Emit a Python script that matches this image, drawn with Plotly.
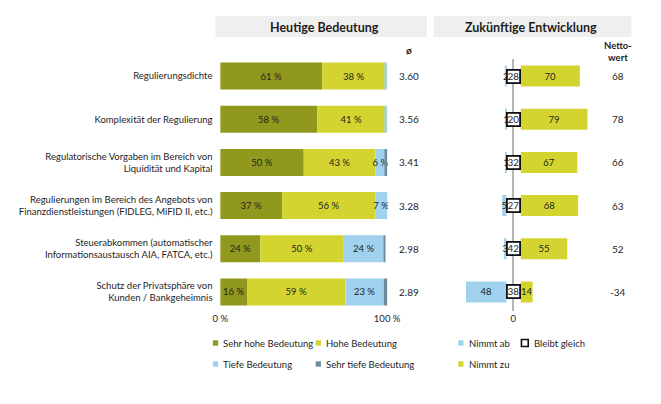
import numpy as np
import plotly.graph_objects as go

# ---------------- data ----------------
categories = [
    "Regulierungsdichte",
    "Komplexität der Regulierung",
    "Regulatorische Vorgaben im Bereich von<br>Liquidität und Kapital",
    "Regulierungen im Bereich des Angebots von<br>Finanzdienstleistungen (FIDLEG, MiFID II, etc.)",
    "Steuerabkommen (automatischer<br>Informationsaustausch AIA, FATCA, etc.)",
    "Schutz der Privatsphäre von<br>Kunden / Bankgeheimnis",
]
sehr_hohe = [61, 58, 50, 37, 24, 16]
hohe = [38, 41, 43, 56, 50, 59]
tiefe = [1, 1, 6, 7, 24, 23]
sehr_tiefe = [0, 0, 1, 0, 1, 2]
avg = ["3.60", "3.56", "3.41", "3.28", "2.98", "2.89"]

nimmt_ab = [2, 1, 1, 5, 3, 48]
bleibt_gleich = [28, 20, 32, 27, 42, 38]
nimmt_zu = [70, 79, 67, 68, 55, 14]
netto = [68, 78, 66, 63, 52, -34]

left_names = ["Sehr hohe Bedeutung", "Hohe Bedeutung", "Tiefe Bedeutung", "Sehr tiefe Bedeutung"]
left_series = [sehr_hohe, hohe, tiefe, sehr_tiefe]
left_ticks = [0, 100]
left_ticktext = ["0 %", "100 %"]

# ---------------- style ----------------
W, H = 661, 404
FONT = "Lato"
TXT = "#1e1e1e"
C_SH = "#91981e"
C_H = "#d4d430"
C_T = "#a0d2ee"
C_ST = "#6e8c9b"
left_colors = [C_SH, C_H, C_T, C_ST]
GAP_POS = 9
GAP_NEG = 8


def px(x):
    return x / W


def py(y):
    return 1 - y / H


fig = go.Figure()

# left stacked bars (explicit bases from cumulative sums)
cum = np.zeros(len(categories))
for name, vals, col in zip(left_names, left_series, left_colors):
    vals = np.array(vals, dtype=float)
    fig.add_trace(go.Bar(
        y=categories, x=vals, base=cum.copy(), orientation="h",
        marker=dict(color=col, line=dict(width=0)), width=0.625,
        text=[f"{int(v)} %" if v >= 5 else "" for v in vals],
        textposition="inside", insidetextanchor="middle", constraintext="none", textangle=0,
        textfont=dict(family=FONT, size=9.5, color=TXT),
        xaxis="x", yaxis="y", showlegend=False, hoverinfo="skip",
    ))
    cum = cum + vals

# right bars
fig.add_trace(go.Bar(
    y=categories, x=[-v for v in nimmt_ab], base=[-GAP_NEG] * len(categories), orientation="h",
    marker=dict(color=C_T, line=dict(width=0)), width=0.486,
    text=[str(v) for v in nimmt_ab], textposition="inside", insidetextanchor="middle",
    constraintext="none", textangle=0, textfont=dict(family=FONT, size=9.5, color=TXT),
    xaxis="x2", yaxis="y2", showlegend=False, hoverinfo="skip",
))
fig.add_trace(go.Bar(
    y=categories, x=nimmt_zu, base=[GAP_POS] * len(categories), orientation="h",
    marker=dict(color=C_H, line=dict(width=0)), width=0.486,
    text=[str(v) for v in nimmt_zu], textposition="inside", insidetextanchor="middle",
    constraintext="none", textangle=0, textfont=dict(family=FONT, size=9.5, color=TXT),
    xaxis="x2", yaxis="y2", showlegend=False, hoverinfo="skip",
))

ydom = [py(311), py(59)]
yrange = [5.44, -0.394]

annotations = []
# bleibt gleich boxes
for c, v in zip(categories, bleibt_gleich):
    annotations.append(dict(
        x=0, y=c, xref="x2", yref="y2", text=str(v), showarrow=False,
        font=dict(family=FONT, size=10, color=TXT), bgcolor="white",
        bordercolor="#111111", borderwidth=1.8, borderpad=0, width=11, height=11,
        xanchor="center", yanchor="middle",
    ))
# average and netto columns
for c, a, n in zip(categories, avg, netto):
    annotations.append(dict(x=px(415), y=c, xref="paper", yref="y", text=a, showarrow=False,
                            font=dict(family=FONT, size=10, color=TXT), xanchor="center", yanchor="middle"))
    annotations.append(dict(x=px(630), y=c, xref="paper", yref="y", text=str(n), showarrow=False,
                            font=dict(family=FONT, size=10, color=TXT), xanchor="center", yanchor="middle"))

# headers
shapes = [
    dict(type="rect", xref="paper", yref="paper", x0=px(215), x1=px(433), y0=py(37), y1=py(16),
         fillcolor="#efefef", line=dict(width=0), layer="below"),
    dict(type="rect", xref="paper", yref="paper", x0=px(440), x1=px(644), y0=py(37), y1=py(16),
         fillcolor="#efefef", line=dict(width=0), layer="below"),
]
hdr = [
    ("<b>Heutige Bedeutung</b>", 327, 27, 12.5),
    ("<b>Zukünftige Entwicklung</b>", 540, 27, 12.5),
    ("<b>ø</b>", 415, 50, 10),
    ("<b>Netto-<br>wert</b>", 630, 51, 9.5),
]
for t, x, y, s in hdr:
    annotations.append(dict(x=px(x), y=py(y), xref="paper", yref="paper", text=t, showarrow=False,
                            xanchor="center", yanchor="middle",
                            font=dict(family=FONT, size=s, color=TXT)))

# legend (manual)
legend_items = [
    ("Sehr hohe Bedeutung", C_SH, 215, 343, False),
    ("Hohe Bedeutung", C_H, 321, 343, False),
    ("Tiefe Bedeutung", C_T, 215, 364, False),
    ("Sehr tiefe Bedeutung", C_ST, 321, 364, False),
    ("Nimmt ab", C_T, 468, 343, False),
    ("Bleibt gleich", "white", 534, 343, True),
    ("Nimmt zu", C_H, 468, 364, False),
]
for label, col, x, y, outline in legend_items:
    s = 3.5 if outline else 2.7
    shapes.append(dict(type="rect", xref="paper", yref="paper",
                       x0=px(x - s), x1=px(x + s), y0=py(y + s), y1=py(y - s),
                       fillcolor=col, line=dict(width=1.6 if outline else 0, color="#111111")))
    annotations.append(dict(x=px(x + (7 if outline else 6)), y=py(y), xref="paper", yref="paper",
                            text=label, showarrow=False, xanchor="left", yanchor="middle",
                            font=dict(family=FONT, size=9.5, color=TXT)))

fig.update_layout(
    width=W, height=H, margin=dict(l=0, r=0, t=0, b=0), autosize=False,
    paper_bgcolor="white", plot_bgcolor="white",
    barmode="overlay", font=dict(family=FONT, size=9.5, color=TXT),
    xaxis=dict(domain=[px(219.14), px(392.86)], range=[-0.5, 100.5], tickvals=left_ticks,
               ticktext=left_ticktext, showgrid=True, gridcolor="#b5b5b5", gridwidth=1.5,
               zeroline=False, showline=False, ticks="", anchor="y",
               tickfont=dict(family=FONT, size=9.5, color=TXT)),
    yaxis=dict(domain=ydom, range=yrange, type="category", showgrid=False, zeroline=False,
               ticks="", ticklabelstandoff=6, anchor="x",
               tickfont=dict(family=FONT, size=9.5, color=TXT)),
    xaxis2=dict(domain=[px(465), px(615)], range=[(465 - 522) / 0.87, (615 - 522) / 0.87],
                tickvals=[0], ticktext=["0"], showgrid=False, zeroline=True,
                zerolinecolor="#b5b5b5", zerolinewidth=1.5, showline=False, ticks="",
                anchor="y2", tickfont=dict(family=FONT, size=9.5, color=TXT)),
    yaxis2=dict(domain=ydom, range=yrange, type="category", showgrid=False, zeroline=False,
                showticklabels=False, ticks="", anchor="x2"),
    shapes=shapes, annotations=annotations,
)

fig.write_html("out.html", config={"responsive": False, "displayModeBar": False},
               post_script="document.body.style.margin='0';")
